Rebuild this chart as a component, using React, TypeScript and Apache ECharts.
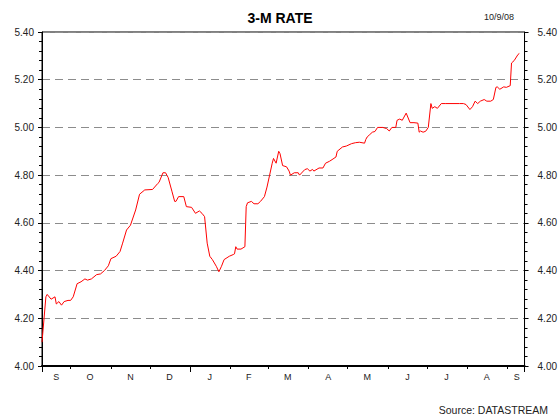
import React, { useEffect, useRef } from "react";
import * as echarts from "echarts";

const chartTitle = "3-M RATE";
const dateStamp = "10/9/08";
const sourceNote = "Source: DATASTREAM";

const axisStart = "2007-09-09";
const axisEnd = "2008-09-14";
const monthInitials = ["J", "F", "M", "A", "M", "J", "J", "A", "S", "O", "N", "D"];

const yMin = 4.0;
const yMax = 5.4;
const yStep = 0.2;

const obsDates = [
  "2007-09-09", "2007-09-12", "2007-09-13", "2007-09-16", "2007-09-19", "2007-09-20", "2007-09-22", "2007-09-24",
  "2007-09-26", "2007-09-29", "2007-10-01", "2007-10-03", "2007-10-06", "2007-10-09", "2007-10-12", "2007-10-14",
  "2007-10-17", "2007-10-21", "2007-10-24", "2007-10-27", "2007-10-30", "2007-11-01", "2007-11-05", "2007-11-08",
  "2007-11-10", "2007-11-13", "2007-11-16", "2007-11-20", "2007-11-23", "2007-11-27", "2007-12-03", "2007-12-07",
  "2007-12-08", "2007-12-11", "2007-12-13", "2007-12-15", "2007-12-18", "2007-12-20", "2007-12-21", "2007-12-23",
  "2007-12-27", "2007-12-29", "2008-01-02", "2008-01-05", "2008-01-08", "2008-01-10", "2008-01-12", "2008-01-14",
  "2008-01-16", "2008-01-18", "2008-01-21", "2008-01-23", "2008-01-25", "2008-01-27", "2008-01-31", "2008-02-03",
  "2008-02-04", "2008-02-05", "2008-02-06", "2008-02-09", "2008-02-12", "2008-02-13", "2008-02-14", "2008-02-17",
  "2008-02-19", "2008-02-22", "2008-02-24", "2008-02-27", "2008-02-29", "2008-03-02", "2008-03-04", "2008-03-05",
  "2008-03-07", "2008-03-09", "2008-03-10", "2008-03-12", "2008-03-15", "2008-03-17", "2008-03-18", "2008-03-21",
  "2008-03-24", "2008-03-25", "2008-03-29", "2008-03-31", "2008-04-02", "2008-04-04", "2008-04-05", "2008-04-09",
  "2008-04-12", "2008-04-14", "2008-04-17", "2008-04-19", "2008-04-22", "2008-04-23", "2008-04-27", "2008-04-30",
  "2008-05-04", "2008-05-07", "2008-05-10", "2008-05-14", "2008-05-15", "2008-05-16", "2008-05-18", "2008-05-20",
  "2008-05-22", "2008-05-24", "2008-05-28", "2008-05-31", "2008-06-02", "2008-06-04", "2008-06-07", "2008-06-08",
  "2008-06-10", "2008-06-12", "2008-06-15", "2008-06-18", "2008-06-21", "2008-06-24", "2008-06-25", "2008-06-26",
  "2008-06-28", "2008-06-30", "2008-07-02", "2008-07-04", "2008-07-05", "2008-07-07", "2008-07-09", "2008-07-12",
  "2008-07-15", "2008-07-21", "2008-07-26", "2008-07-29", "2008-07-31", "2008-08-03", "2008-08-05", "2008-08-07",
  "2008-08-09", "2008-08-11", "2008-08-14", "2008-08-16", "2008-08-19", "2008-08-21", "2008-08-23", "2008-08-24",
  "2008-08-26", "2008-08-29", "2008-08-31", "2008-09-03", "2008-09-04", "2008-09-06", "2008-09-09", "2008-09-10",
];

const obsValues = [
  4.10, 4.29, 4.30, 4.28, 4.29, 4.26, 4.27, 4.255,
  4.27, 4.275, 4.275, 4.29, 4.345, 4.353, 4.365, 4.36,
  4.365, 4.383, 4.386, 4.40, 4.42, 4.45, 4.46, 4.48,
  4.515, 4.57, 4.59, 4.654, 4.72, 4.738, 4.74, 4.765,
  4.77, 4.81, 4.81, 4.79, 4.73, 4.69, 4.69, 4.71,
  4.71, 4.668, 4.665, 4.64, 4.65, 4.64, 4.626, 4.515,
  4.46, 4.446, 4.418, 4.395, 4.418, 4.446, 4.46, 4.467,
  4.47, 4.50, 4.49, 4.49, 4.50, 4.668, 4.684, 4.69,
  4.68, 4.68, 4.69, 4.71, 4.75, 4.80, 4.85, 4.87,
  4.85, 4.90, 4.89, 4.84, 4.835, 4.817, 4.80, 4.81,
  4.81, 4.80, 4.823, 4.827, 4.817, 4.824, 4.817, 4.83,
  4.83, 4.85, 4.858, 4.865, 4.876, 4.90, 4.918, 4.922,
  4.932, 4.936, 4.938, 4.934, 4.95, 4.96, 4.97, 4.98,
  4.983, 5.00, 5.00, 4.995, 4.985, 5.00, 5.00, 5.03,
  5.035, 5.03, 5.06, 5.02, 5.02, 5.018, 4.98, 4.985,
  4.98, 4.984, 5.00, 5.10, 5.08, 5.087, 5.08, 5.10,
  5.10, 5.10, 5.10, 5.10, 5.096, 5.075, 5.087, 5.11,
  5.10, 5.11, 5.117, 5.11, 5.11, 5.117, 5.168, 5.17,
  5.16, 5.17, 5.168, 5.175, 5.27, 5.28, 5.306, 5.31,
];

const DAY = 86400000;
const toUTC = (s: string) => {
  const [y, m, d] = s.split("-").map(Number);
  return Date.UTC(y, m - 1, d);
};
const fmt = (t: number) => new Date(t).toISOString().slice(0, 10);

function buildAxis() {
  const start = toUTC(axisStart);
  const end = toUTC(axisEnd);
  const days: string[] = [];
  for (let t = start; t <= end; t += DAY) days.push(fmt(t));
  const idx: Record<string, number> = {};
  days.forEach((d, i) => (idx[d] = i));
  const values: (number | null)[] = days.map(() => null);
  obsDates.forEach((d, i) => {
    if (idx[d] !== undefined) values[idx[d]] = obsValues[i];
  });
  const monthStarts = new Set<number>();
  const yearStarts = new Set<number>();
  const labelIdx = new Set<number>();
  let segStart = 0;
  for (let i = 1; i <= days.length; i++) {
    if (i === days.length || days[i].slice(8) === "01") {
      labelIdx.add(Math.round((segStart + i - 1) / 2));
      if (i < days.length) {
        monthStarts.add(i);
        if (days[i].slice(5) === "01-01") yearStarts.add(i);
      }
      segStart = i;
    }
  }
  return { days, values, monthStarts, yearStarts, labelIdx };
}

export default function App() {
  const ref = useRef<HTMLDivElement>(null);
  useEffect(() => {
    document.body.style.margin = "0";
    if (!ref.current) return;
    const chart = echarts.init(ref.current, null, { renderer: "svg" });
    const { days, values, monthStarts, yearStarts, labelIdx } = buildAxis();
    const last = days.length - 1;
    const font = "'Liberation Sans', Arial, sans-serif";
    const yAxisCommon = {
      type: "value",
      min: yMin,
      max: yMax,
      interval: yStep,
      axisLine: { show: true, lineStyle: { color: "#000", width: 1 } },
      axisTick: { show: true, length: 4, lineStyle: { color: "#000" } },
      minorTick: { show: true, splitNumber: 5, length: 3, lineStyle: { color: "#000" } },
      axisLabel: {
        color: "#222",
        fontSize: 10,
        fontFamily: font,
        formatter: (v: number) => v.toFixed(2),
      },
    };
    chart.setOption({
      animation: false,
      backgroundColor: "#fff",
      title: {
        text: chartTitle,
        left: "center",
        top: 6,
        textStyle: { fontSize: 14, fontWeight: "bold", color: "#000", fontFamily: font },
      },
      grid: {
        left: 42,
        right: 35,
        top: 32,
        bottom: 52,
        show: true,
        borderColor: "#000",
        borderWidth: 1,
        backgroundColor: "transparent",
      },
      xAxis: [
        {
          type: "category",
          data: days,
          boundaryGap: false,
          axisLine: { show: true, lineStyle: { color: "#000", width: 2 } },
          axisTick: {
            show: true,
            length: 3,
            interval: (i: number) => monthStarts.has(i),
            lineStyle: { color: "#000" },
          },
          axisLabel: {
            interval: (i: number) => labelIdx.has(i),
            formatter: (v: string) => monthInitials[Number(v.slice(5, 7)) - 1],
            color: "#222",
            fontSize: 9,
            fontFamily: font,
            margin: 6,
          },
          splitLine: { show: false },
        },
        {
          type: "category",
          data: days,
          boundaryGap: false,
          position: "bottom",
          axisLine: { show: false },
          axisTick: {
            show: true,
            length: 6,
            interval: (i: number) => i === 0 || i === last || yearStarts.has(i),
            lineStyle: { color: "#000" },
          },
          axisLabel: { show: false },
          splitLine: { show: false },
        },
      ],
      yAxis: [
        {
          ...yAxisCommon,
          position: "left",
          axisLabel: { ...yAxisCommon.axisLabel, margin: 8 },
          splitLine: {
            show: true,
            lineStyle: { color: "#8c8c8c", type: [8, 5], width: 1 },
          },
        },
        {
          ...yAxisCommon,
          position: "right",
          axisLabel: { ...yAxisCommon.axisLabel, margin: 13 },
          splitLine: { show: false },
        },
      ],
      series: [
        {
          type: "line",
          data: values,
          xAxisIndex: 0,
          yAxisIndex: 0,
          connectNulls: true,
          showSymbol: false,
          symbol: "none",
          lineStyle: { color: "#ff0000", width: 1 },
        },
      ],
      graphic: [
        {
          type: "text",
          right: 46,
          top: 12,
          style: { text: dateStamp, fontSize: 9, fill: "#222", fontFamily: font },
        },
        {
          type: "text",
          right: 12,
          top: 404,
          style: { text: sourceNote, fontSize: 10.5, fill: "#222", fontFamily: font },
        },
      ],
    });
    return () => chart.dispose();
  }, []);
  return <div ref={ref} style={{ width: 560, height: 418 }} />;
}
